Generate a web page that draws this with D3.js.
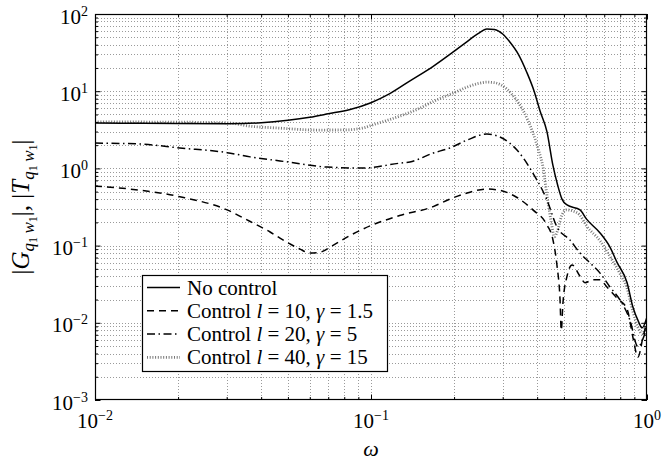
<!DOCTYPE html>
<html>
<head>
<meta charset="utf-8">
<script src="https://cdn.jsdelivr.net/npm/d3@7"></script>
<style>
  body { margin: 0; background: #fff; }
  text { font-family: "Liberation Serif", "Times New Roman", serif; fill: #000; }
</style>
</head>
<body>
<svg id="chart" width="662" height="460"></svg>
<script>
// Frequency response magnitudes, [omega, magnitude]
const noControl = [
  [0.01,3.87],[0.015,3.84],[0.02,3.81],[0.03,3.78],[0.04,3.9],[0.05,4.2],[0.06,4.6],
  [0.07,5.1],[0.084,5.8],[0.1,7.1],[0.117,9.3],[0.138,13.5],[0.168,21],[0.198,32],
  [0.223,44],[0.245,56],[0.263,64],[0.28,63],[0.3,55],[0.319,43],[0.342,30],[0.367,17.5],
  [0.39,10],[0.41,5.5],[0.434,3.0],[0.456,1.1],[0.475,0.6],[0.492,0.4],[0.513,0.336],
  [0.572,0.29],[0.604,0.22],[0.676,0.146],[0.735,0.095],[0.778,0.061],[0.847,0.033],
  [0.889,0.016],[0.93,0.0105],[0.96,0.0086],[1.0,0.0119]
];
const controlL10 = [
  [0.01,0.59],[0.0134,0.54],[0.0203,0.43],[0.0301,0.29],[0.0365,0.205],[0.0431,0.15],
  [0.0468,0.125],[0.0509,0.105],[0.0553,0.09],[0.0601,0.08],[0.0653,0.082],[0.0726,0.1],
  [0.0839,0.135],[0.0992,0.18],[0.127,0.245],[0.168,0.32],[0.193,0.4],[0.223,0.48],
  [0.263,0.54],[0.293,0.52],[0.338,0.42],[0.386,0.29],[0.434,0.185],[0.456,0.12],
  [0.472,0.055],[0.484,0.02],[0.489,0.008],[0.496,0.018],[0.513,0.04],[0.535,0.056],
  [0.572,0.04],[0.596,0.033],[0.637,0.036],[0.676,0.036],[0.716,0.029],[0.778,0.021],
  [0.847,0.015],[0.889,0.0065],[0.927,0.0036],[0.967,0.0065],[1.0,0.0105]
];
const controlL20 = [
  [0.01,2.13],[0.0146,2.07],[0.0203,1.84],[0.0301,1.6],[0.0365,1.41],[0.0468,1.25],
  [0.0509,1.2],[0.0693,1.04],[0.0935,1.01],[0.1274,1.17],[0.1384,1.21],[0.168,1.58],
  [0.193,1.84],[0.223,2.33],[0.263,2.79],[0.293,2.55],[0.338,1.73],[0.386,0.87],
  [0.434,0.39],[0.472,0.174],[0.526,0.118],[0.572,0.08],[0.621,0.06],[0.676,0.044],
  [0.735,0.029],[0.799,0.0197],[0.867,0.0109],[0.927,0.0049],[0.967,0.0062],[1.0,0.009]
];
const controlL40 = [
  [0.01,4.0],[0.02,3.97],[0.03,3.9],[0.037,3.5],[0.045,3.35],[0.064,3.14],[0.08,3.15],
  [0.094,3.35],[0.1,3.6],[0.117,4.3],[0.138,5.3],[0.15,6.0],[0.17,7.5],[0.198,9.4],
  [0.223,11.3],[0.245,12.6],[0.263,13.1],[0.28,12.9],[0.311,10.6],[0.338,7.5],
  [0.355,5.7],[0.37,4.2],[0.386,2.9],[0.405,1.7],[0.42,1.04],[0.434,0.45],[0.45,0.2],
  [0.462,0.13],[0.475,0.16],[0.49,0.24],[0.51,0.29],[0.54,0.28],[0.57,0.25],[0.604,0.18],
  [0.676,0.115],[0.735,0.072],[0.799,0.043],[0.847,0.028],[0.889,0.014],[0.93,0.0085],
  [0.96,0.0072],[1.0,0.011]
];
const xTickExponents = [-2, -1, 0];
const yTickExponents = [-3, -2, -1, 0, 1, 2];
const legendItems = [
  { text: [["No control", false]] },
  { text: [["Control ", false], ["l", true], [" = 10, ", false], ["γ", true], [" = 1.5", false]] },
  { text: [["Control ", false], ["l", true], [" = 20, ", false], ["γ", true], [" = 5", false]] },
  { text: [["Control ", false], ["l", true], [" = 40, ", false], ["γ", true], [" = 15", false]] }
];

const seriesStyles = [
  { data: noControl,  stroke: "#000", width: 1.5, dash: null },
  { data: controlL10, stroke: "#000", width: 1.5, dash: "7,5" },
  { data: controlL20, stroke: "#000", width: 1.5, dash: "8,3.5,1.5,3.5" },
  { data: controlL40, stroke: "#777", width: 2.8, dash: "1,1.7" }
];

const svg = d3.select("#chart");
const plot = { left: 95, top: 14, right: 647, bottom: 400 };

const x = d3.scaleLog().domain([1e-2, 1]).range([plot.left, plot.right]);
const y = d3.scaleLog().domain([1e-3, 1e2]).range([plot.bottom, plot.top]);

const xAll = x.ticks();
const yAll = y.ticks();
const xMajor = xTickExponents.map(e => Math.pow(10, e));
const yMajor = yTickExponents.map(e => Math.pow(10, e));
const isMajor = (v) => Math.abs(Math.log10(v) - Math.round(Math.log10(v))) < 1e-9;
const xMinor = xAll.filter(v => !isMajor(v));
const yMinor = yAll.filter(v => !isMajor(v));

// Dotted grid at every decade and sub-decade
const grid = svg.append("g").attr("stroke", "#9a9a9a").attr("stroke-width", 1)
  .attr("stroke-dasharray", "1,2").attr("shape-rendering", "crispEdges");
grid.selectAll("line.gx").data(xAll.filter(v => v > 1e-2 && v < 1)).join("line")
  .attr("class", "gx")
  .attr("x1", d => Math.round(x(d)) + 0.5).attr("x2", d => Math.round(x(d)) + 0.5)
  .attr("y1", plot.top).attr("y2", plot.bottom);
grid.selectAll("line.gy").data(yAll.filter(v => v > 1e-3 && v < 1e2)).join("line")
  .attr("class", "gy")
  .attr("y1", d => Math.round(y(d)) + 0.5).attr("y2", d => Math.round(y(d)) + 0.5)
  .attr("x1", plot.left).attr("x2", plot.right);

// Curves
svg.append("clipPath").attr("id", "plotclip").append("rect")
  .attr("x", plot.left).attr("y", plot.top)
  .attr("width", plot.right - plot.left).attr("height", plot.bottom - plot.top);

const line = d3.line().x(d => x(d[0])).y(d => y(d[1])).curve(d3.curveMonotoneX);
const curves = svg.append("g").attr("clip-path", "url(#plotclip)");
// draw the dotted series first so the black lines stay on top
[3, 2, 1, 0].forEach(i => {
  const s = seriesStyles[i];
  curves.append("path").datum(s.data)
    .attr("fill", "none").attr("stroke", s.stroke).attr("stroke-width", s.width)
    .attr("stroke-dasharray", s.dash).attr("d", line);
});

// Inward ticks on all four sides
function tickAxis(axisGen, scale, values, size, transform) {
  const g = svg.append("g").attr("transform", transform)
    .call(axisGen(scale).tickValues(values).tickSize(-size).tickFormat(""));
  g.select(".domain").remove();
  g.selectAll("line").attr("stroke", "#000").attr("stroke-width", 1);
  return g;
}
tickAxis(d3.axisBottom, x, xMinor, 3, `translate(0,${plot.bottom})`);
tickAxis(d3.axisBottom, x, xMajor, 5.5, `translate(0,${plot.bottom})`);
tickAxis(d3.axisTop, x, xMinor, 3, `translate(0,${plot.top})`);
tickAxis(d3.axisTop, x, xMajor, 5.5, `translate(0,${plot.top})`);
tickAxis(d3.axisLeft, y, yMinor, 3, `translate(${plot.left},0)`);
tickAxis(d3.axisLeft, y, yMajor, 5.5, `translate(${plot.left},0)`);
tickAxis(d3.axisRight, y, yMinor, 3, `translate(${plot.right},0)`);
tickAxis(d3.axisRight, y, yMajor, 5.5, `translate(${plot.right},0)`);

// Frame
svg.append("rect").attr("x", plot.left + 0.5).attr("y", plot.top + 0.5)
  .attr("width", plot.right - plot.left - 1).attr("height", plot.bottom - plot.top - 1)
  .attr("fill", "none").attr("stroke", "#000").attr("stroke-width", 1.2);

// Power-of-ten tick labels
function powerLabel(sel, exp) {
  sel.append("tspan").text("10");
  sel.append("tspan").attr("dy", -8).attr("font-size", 14)
    .text(exp < 0 ? "\u2212" + (-exp) : String(exp));
}
xTickExponents.forEach(e => {
  const t = svg.append("text").attr("x", x(Math.pow(10, e))).attr("y", 428)
    .attr("text-anchor", "middle").attr("font-size", 21);
  powerLabel(t, e);
});
yTickExponents.forEach(e => {
  const t = svg.append("text").attr("x", 88).attr("y", y(Math.pow(10, e)) + 9.5)
    .attr("text-anchor", "end").attr("font-size", 21);
  powerLabel(t, e);
});

// Axis titles
svg.append("text").attr("x", x(0.1)).attr("y", 456).attr("text-anchor", "middle")
  .attr("font-size", 22).attr("font-style", "italic").text("ω");

const yTitle = svg.append("text").attr("text-anchor", "middle").attr("font-size", 25)
  .attr("transform", `translate(29,${(plot.top + plot.bottom) / 2}) rotate(-90)`);
function subPair(t, letter) {
  t.append("tspan").attr("font-style", "italic").text(letter);
  t.append("tspan").attr("font-style", "italic").attr("font-size", 17).attr("dy", 5).text("q");
  t.append("tspan").attr("font-size", 12).attr("dy", 3).text("1");
  t.append("tspan").attr("font-style", "italic").attr("font-size", 17).attr("dy", -3).text("\u2009w");
  t.append("tspan").attr("font-size", 12).attr("dy", 3).text("1");
}
yTitle.append("tspan").text("|");
subPair(yTitle, "G");
yTitle.append("tspan").attr("dy", -8).text("|, |");
subPair(yTitle, "T");
yTitle.append("tspan").attr("dy", -8).text("|");

// Legend
const lg = svg.append("g");
lg.append("rect").attr("x", 142.5).attr("y", 275.5).attr("width", 245).attr("height", 96)
  .attr("fill", "#fff").attr("stroke", "#000").attr("stroke-width", 1.2);
legendItems.forEach((item, i) => {
  const cy = 287.5 + i * 23.3;
  const s = seriesStyles[i];
  lg.append("line").attr("x1", 147).attr("x2", 180).attr("y1", cy).attr("y2", cy)
    .attr("stroke", s.stroke).attr("stroke-width", s.width).attr("stroke-dasharray", s.dash);
  const t = lg.append("text").attr("x", 187).attr("y", cy + 7).attr("font-size", 21);
  item.text.forEach(([str, ital]) => {
    const ts = t.append("tspan").text(str);
    if (ital) ts.attr("font-style", "italic");
  });
});
</script>
</body>
</html>
